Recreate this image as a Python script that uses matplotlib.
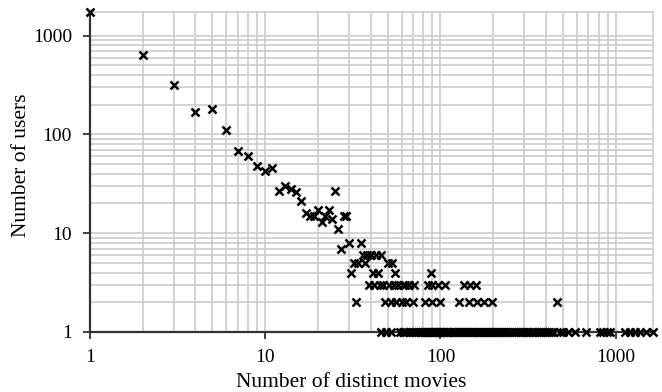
import matplotlib
matplotlib.use("Agg")
import matplotlib.pyplot as plt
from matplotlib.ticker import FixedLocator, LogLocator, NullFormatter

# users per number of distinct movies
head_movies = [1, 2, 3, 4, 5, 6, 7, 8, 9, 10, 11, 12, 13, 14, 15, 16, 17, 18, 19, 20,
               21, 22, 23, 24, 25, 26, 27, 28, 29, 30, 35]
head_users = [1734, 630, 318, 169, 179, 110, 68, 61, 48, 43, 46, 27, 30, 28, 26, 21, 16, 15, 15, 17,
              13, 15, 17, 14, 27, 11, 7, 15, 15, 8, 8]

# movie counts that only a handful of users reached
movies_6_users = [36, 38, 40, 43, 46]
movies_5_users = [32, 34, 37, 50, 53]
movies_4_users = [31, 41, 44, 55, 88]
movies_3_users = [39, 42, 45, 47, 51, 54, 57, 61, 63, 66, 71, 85, 90, 97, 106, 137, 148, 160]
movies_2_users = [33, 48, 52, 56, 60, 64, 70, 82, 89, 99, 128, 145, 162, 178, 198, 460]
movies_1_user = [46, 49, 52, 59, 61, 62, 64, 66, 67, 69, 71, 72, 74, 76, 78, 79, 81, 82, 84, 86,
                 87, 89, 91, 92, 94, 96, 98, 99, 101, 103, 105, 107, 109, 111, 113, 116, 118, 121,
                 123, 126, 128, 131, 134, 137, 140, 143, 146, 149, 152, 156, 159, 163, 167, 171,
                 175, 179, 183, 187, 192, 196, 201, 206, 211, 216, 221, 227, 232, 238, 244, 250,
                 257, 263, 270, 277, 284, 291, 299, 306, 314, 322, 331, 339, 348, 357, 366, 376,
                 386, 396, 404, 415, 427, 437, 480, 499, 533, 585, 681, 811, 843, 887, 927, 1130,
                 1203, 1285, 1371, 1499, 1634]

low_levels = [(6, movies_6_users), (5, movies_5_users), (4, movies_4_users),
              (3, movies_3_users), (2, movies_2_users), (1, movies_1_user)]

plt.rcParams['font.family'] = ['Liberation Serif', 'DejaVu Serif']
plt.rcParams['font.size'] = 14

fig = plt.figure(figsize=(6.62, 3.92), dpi=100)
ax = fig.add_axes([90 / 662, 60 / 392, 563 / 662, 320 / 392])

marker_style = dict(linestyle='none', marker='x', color='black', markersize=5.5,
                    markeredgewidth=1.8, clip_on=False, zorder=5)
ax.plot(head_movies, head_users, **marker_style)
for n_users, movies in low_levels:
    ax.plot(movies, [n_users] * len(movies), **marker_style)

ax.set_xscale('log')
ax.set_yscale('log')
ax.set_xlim(1, 1634)
ax.set_ylim(1, 1734)

decades = [1, 10, 100, 1000]
for axis in (ax.xaxis, ax.yaxis):
    axis.set_major_locator(FixedLocator(decades))
    axis.set_minor_locator(LogLocator(base=10, subs=range(2, 10), numticks=20))
    axis.set_minor_formatter(NullFormatter())
ax.set_xticklabels([str(d) for d in decades])
ax.set_yticklabels([str(d) for d in decades])

ax.grid(True, which='both', color='#cccccc', linewidth=1.2)
ax.set_axisbelow(True)
ax.tick_params(which='major', direction='out', length=5, width=1.3, color='#333333')
ax.tick_params(axis='x', which='major', pad=7)
ax.tick_params(axis='y', which='major', pad=8)
ax.tick_params(which='minor', length=0)

for side in ('left', 'bottom'):
    ax.spines[side].set_color('#333333')
    ax.spines[side].set_linewidth(1.6)
for side in ('top', 'right'):
    ax.spines[side].set_color('#cccccc')
    ax.spines[side].set_linewidth(1.2)

ax.set_xlabel('Number of distinct movies', fontsize=15.5)
ax.set_ylabel('Number of users', fontsize=15.5)
ax.xaxis.set_label_coords(0.464, -0.127)
ax.yaxis.set_label_coords(-0.105, 0.52)

fig.savefig('out.png', dpi=100)
